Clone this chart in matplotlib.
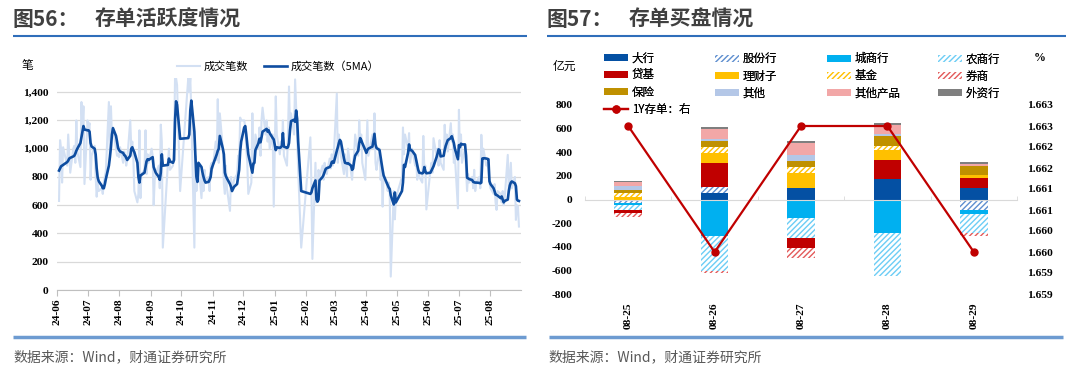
import numpy as np
import pandas as pd
import matplotlib
matplotlib.use("Agg")
import matplotlib.pyplot as plt
from matplotlib.lines import Line2D
import matplotlib.ticker as mticker

CJK = "Noto Sans CJK SC"
SERIF = "Liberation Serif"
plt.rcParams["axes.unicode_minus"] = False
plt.rcParams["hatch.linewidth"] = 1.0

# ---------------- Figure 56 data ----------------
first_day = "2024-06-03"
last_day = "2025-08-29"
market_holidays = ["2024-06-10", "2024-09-16", "2024-09-17", "2024-10-01", "2024-10-02",
                   "2024-10-03", "2024-10-04", "2024-10-07", "2025-01-01", "2025-01-28",
                   "2025-01-29", "2025-01-30", "2025-01-31", "2025-02-03", "2025-02-04",
                   "2025-04-04", "2025-05-01", "2025-05-02", "2025-05-05", "2025-06-02"]

raw_counts = [
    630, 1060, 1000, 760, 1010, 880, 1100, 960, 830, 1000, 1020, 900, 1200, 980, 870, 1330, 1150, 1300, 750,  # 2024-06
    1200, 1150, 1180, 780, 950, 1020, 800, 660, 760, 700, 720, 680, 760, 800, 840, 1330, 920, 1300, 1080, 1150, 1000, 950, 960,  # 07
    940, 1010, 900, 980, 950, 880, 920, 1200, 1000, 1050, 940, 700, 620, 680, 1130, 650, 820, 850, 1130, 820, 960, 900,  # 08
    1000, 950, 600, 780, 820, 880, 720, 1170, 1050, 300, 900, 1000, 850, 880, 1000, 1500, 1500, 1450, 700,  # 09
    1500, 1400, 1500, 1250, 300, 950, 700, 850, 900, 650, 820, 700, 850, 760, 800, 700, 880, 900,  # 10
    860, 1050, 920, 1350, 900, 1250, 1000, 750, 680, 880, 720, 560, 800, 700, 740, 780, 820, 950, 900, 1220, 1200,  # 11
    1200, 1150, 1000, 900, 680, 760, 1250, 880, 950, 1100, 1000, 1150, 950, 1200, 1290, 1100, 1200, 1050, 1150, 1000, 1100, 590,  # 12
    1370, 1100, 960, 1050, 1000, 1200, 950, 880, 1100, 1440, 1150, 1250, 1100, 1490, 1300, 1100, 850, 300,  # 2025-01
    1080, 750, 220, 900, 620, 700, 850, 800, 880, 780, 900, 850, 820, 930, 860, 960, 880, 950,  # 02
    1390, 900, 1100, 1000, 950, 820, 960, 880, 800, 1000, 830, 780, 900, 960, 1100, 950, 1200, 1050, 1100, 900, 780,  # 03
    1000, 1200, 950, 1100, 1000, 1250, 900, 850, 1000, 780, 850, 590, 800, 750, 700, 760, 680, 95, 700, 500, 650,  # 04
    800, 1150, 960, 1100, 1000, 1110, 900, 950, 1000, 880, 920, 780, 850, 800, 760, 1090, 850, 880, 570,  # 05
    850, 900, 830, 1074, 950, 1000, 880, 1060, 900, 850, 1169, 1000, 1100, 980, 1180, 1050, 1100, 900, 950, 578,  # 06
    1275, 950, 1100, 900, 1000, 850, 700, 820, 760, 800, 720, 850, 700, 760, 800, 720, 1098, 950, 1000, 880, 900, 850, 760,  # 07
    720, 680, 750, 620, 567, 700, 680, 620, 700, 600, 650, 956, 700, 800, 900, 720, 800, 496, 600, 590, 449,  # 08
]

ma5_counts = [
    845, 860, 875, 880, 885, 905, 915, 930, 935, 945, 950, 965, 985, 1000, 1040, 1080, 1120, 1160, 1135,  # 2024-06
    1130, 1130, 1120, 1040, 1015, 1000, 960, 860, 795, 770, 738, 720, 720, 748, 785, 880, 940, 1010, 1100, 1145, 1090, 1050, 1005,  # 07
    990, 980, 970, 955, 950, 935, 920, 950, 1000, 1010, 990, 975, 900, 800, 760, 810, 815, 830, 870, 910, 925, 920,  # 08
    935, 940, 870, 850, 830, 800, 780, 830, 960, 880, 885, 930, 910, 900, 920, 1200, 1335, 1310, 1070,  # 09
    1075, 1100, 1270, 1340, 1120, 950, 800, 765, 900, 870, 830, 800, 775, 760, 765, 780, 800, 860,  # 10
    880, 940, 960, 985, 1000, 1090, 1000, 960, 830, 805, 790, 750, 730, 700, 715, 730, 750, 800, 850, 980, 1050,  # 11
    1150, 1160, 1100, 1030, 960, 860, 830, 895, 900, 990, 1040, 1070, 1045, 1080, 1120, 1135, 1140, 1120, 1130, 1110, 1075, 1065,  # 12
    990, 1010, 1005, 1010, 1020, 1110, 1015, 1005, 1010, 1040, 1130, 1195, 1205, 1190, 1270, 1210, 1050, 700,  # 2025-01
    680, 690, 720, 775, 640, 625, 640, 775, 800, 815, 835, 855, 862, 870, 880, 905, 910, 900,  # 02
    985, 1010, 1040, 1062, 1050, 930, 900, 898, 895, 897, 880, 850, 860, 910, 950, 985, 1040, 1075, 1060, 1040, 990,  # 03
    970, 990, 1000, 1015, 1060, 1105, 1030, 1005, 990, 940, 895, 850, 810, 760, 745, 725, 715, 670, 605, 690, 620,  # 04
    700, 760, 885, 870, 970, 1030, 990, 990, 985, 955, 920, 885, 850, 830, 825, 830, 870, 840, 826,  # 05
    830, 845, 860, 875, 940, 965, 995, 990, 945, 950, 990, 1020, 1040, 1060, 1075, 1088, 1065, 1040, 1000, 925,  # 06
    1025, 1010, 1035, 1030, 1030, 950, 795, 790, 785, 778, 765, 762, 760, 760, 758, 755, 760, 930, 933, 930, 928, 925, 770,  # 07
    750, 720, 700, 675, 672, 668, 650, 662, 640, 620, 630, 640, 700, 740, 760, 768, 755, 735, 640, 632, 630,  # 08
]

left_yticks = [0, 200, 400, 600, 800, 1000, 1200, 1400]

# ---------------- Figure 57 data ----------------
trade_days = ["08-25", "08-26", "08-27", "08-28", "08-29"]
big_banks = [0, 57, 100, 171, 95]
joint_stock = [-30, 52, -8, -14, -92]
city_banks = [-20, -309, -150, -266, -34]
rural_banks = [-36, -297, -172, -369, -158]
money_funds = [-32, 200, -80, 160, 90]
wealth_subs = [23, 85, 123, 86, 23]
funds = [29, 49, 48, 40, 0]
brokers = [-34, -17, -82, 0, -25]
insurance = [29, 51, 58, 77, 74]
others = [34, 15, 51, 17, 0]
other_products = [37, 85, 100, 78, 22]
foreign_banks = [6, 23, 14, 22, 10]
cd_1y_rate = [1.6630, 1.6600, 1.6630, 1.6630, 1.6600]
bar_yticks = [-800, -600, -400, -200, 0, 200, 400, 600, 800]
rate_ticks = [1.6590, 1.6595, 1.6600, 1.6605, 1.6610, 1.6615, 1.6620, 1.6625, 1.6630, 1.6635]
rate_tick_labels = ["1.659", "1.659", "1.660", "1.660", "1.661", "1.661", "1.662", "1.662", "1.663", "1.663"]

# ---------------- figure ----------------
W, H = 1080, 373
fig = plt.figure(figsize=(W / 100, H / 100), dpi=100)
fig.patch.set_facecolor("white")
TICK_FS = 8.2


def fx(p):
    return p / W


def fy(p):
    return 1 - p / H


def hline(x0, x1, y, color, lw):
    fig.add_artist(Line2D([fx(x0), fx(x1)], [fy(y), fy(y)], color=color, lw=lw,
                          transform=fig.transFigure, solid_capstyle="butt"))


title_kw = dict(fontsize=15, fontweight="bold", color="#404040", va="center", family=[CJK])
fig.text(fx(13), fy(19.5), "图56：", **title_kw)
fig.text(fx(95), fy(19.5), "存单活跃度情况", **title_kw)
fig.text(fx(547), fy(19.5), "图57：", **title_kw)
fig.text(fx(629), fy(19.5), "存单买盘情况", **title_kw)
hline(13, 527, 36, "#2F6EBA", 1.5)
hline(547, 1066, 36, "#2F6EBA", 1.5)
hline(13, 526, 337, "#6D9BD1", 2.5)
hline(549, 1063, 337, "#6D9BD1", 2.5)
src_kw = dict(fontsize=10, color="#595959", va="center", family=[CJK])
fig.text(fx(13), fy(357), "数据来源：Wind，财通证券研究所", **src_kw)
fig.text(fx(548), fy(357), "数据来源：Wind，财通证券研究所", **src_kw)

# ---------------- left chart ----------------
days = pd.bdate_range(first_day, last_day)
days = days[~days.isin(pd.to_datetime(market_holidays))]
n = min(len(days), len(raw_counts), len(ma5_counts))

ax1 = fig.add_axes([fx(57), fy(290), 464 / W, 212 / H])
ax1.plot(days[:n], raw_counts[:n], color="#D3E0F3", lw=1.5, label="成交笔数", zorder=2)
ax1.plot(days[:n], ma5_counts[:n], color="#0E4DA0", lw=1.9, label="成交笔数（5MA）", zorder=3)
ax1.set_xlim(pd.Timestamp("2024-06-01"), pd.Timestamp("2025-08-31"))
ax1.set_ylim(0, 1500)
ax1.set_yticks(left_yticks)
ax1.yaxis.set_major_formatter(mticker.FuncFormatter(lambda v, p: f"{v:,.0f}"))
ax1.yaxis.grid(True, color="#D9D9D9", lw=0.9)
ax1.set_axisbelow(True)
for s in ("top", "right", "left"):
    ax1.spines[s].set_visible(False)
ax1.spines["bottom"].set_color("#BFBFBF")
month_starts = pd.date_range("2024-06-01", "2025-08-01", freq="MS")
ax1.set_xticks(month_starts)
ax1.set_xticklabels([d.strftime("%y-%m") for d in month_starts])
ax1.tick_params(axis="x", length=4, color="#BFBFBF", pad=2, labelrotation=90)
ax1.tick_params(axis="y", length=0, pad=6)
for lab in ax1.get_xticklabels() + ax1.get_yticklabels():
    lab.set_fontfamily(SERIF)
    lab.set_fontweight("bold")
    lab.set_fontsize(TICK_FS)
    lab.set_color("#000000")
fig.text(fx(27), fy(65), "笔", fontsize=8.5, ha="center", va="center", family=[CJK])
ax1.legend(loc="center left", bbox_to_anchor=(fx(177), fy(67)), bbox_transform=fig.transFigure,
           ncol=2, frameon=False, prop={"family": CJK, "size": 8}, handlelength=2.1,
           handletextpad=0.3, columnspacing=1.4, borderpad=0, borderaxespad=0)

# ---------------- right chart ----------------
ax2 = fig.add_axes([fx(585), fy(294), 432 / W, 189 / H])
x = np.arange(len(trade_days))
series = [
    ("大行", big_banks, "#0450A3", False),
    ("股份行", joint_stock, "#5E8ECF", True),
    ("城商行", city_banks, "#00B0F0", False),
    ("农商行", rural_banks, "#6CCDF5", True),
    ("贷基", money_funds, "#C00000", False),
    ("理财子", wealth_subs, "#FFC000", False),
    ("基金", funds, "#FFC000", True),
    ("券商", brokers, "#E35A5A", True),
    ("保险", insurance, "#BF9000", False),
    ("其他", others, "#B4C7E7", False),
    ("其他产品", other_products, "#F2A7A7", False),
    ("外资行", foreign_banks, "#7F7F7F", False),
]
pos_base = np.zeros(len(x))
neg_base = np.zeros(len(x))
handles = {}
for name, vals, color, hatched in series:
    v = np.asarray(vals, dtype=float)
    bottoms = np.where(v >= 0, pos_base, neg_base)
    if hatched:
        bars = ax2.bar(x, v, width=0.32, bottom=bottoms, facecolor="white", edgecolor=color,
                       hatch="//////", linewidth=0, label=name, zorder=2)
    else:
        bars = ax2.bar(x, v, width=0.32, bottom=bottoms, color=color, linewidth=0,
                       label=name, zorder=2)
    handles[name] = bars
    pos_base += np.where(v > 0, v, 0)
    neg_base += np.where(v < 0, v, 0)

ax2.set_xlim(-0.5, len(x) - 0.5)
ax2.set_ylim(-800, 800)
ax2.set_yticks(bar_yticks)
ax2.yaxis.set_major_formatter(mticker.FuncFormatter(lambda v, p: f"{int(v)}"))
for s in ("top", "right", "left"):
    ax2.spines[s].set_visible(False)
ax2.spines["bottom"].set_position(("data", 0))
ax2.spines["bottom"].set_color("#D9D9D9")
ax2.set_xticks(x)
ax2.set_xticklabels(trade_days)
ax2.set_xticks(np.arange(len(x) + 1) - 0.5, minor=True)
ax2.tick_params(axis="x", which="major", length=0, pad=74, labelrotation=90)
ax2.tick_params(axis="x", which="minor", length=3, direction="in", color="#D9D9D9")
ax2.tick_params(axis="y", length=0, pad=9)
for lab in ax2.get_xticklabels() + ax2.get_yticklabels():
    lab.set_fontfamily(SERIF)
    lab.set_fontweight("bold")
    lab.set_fontsize(TICK_FS)

ax3 = ax2.twinx()
ax3.plot(x, cd_1y_rate, color="#C00000", lw=1.6, marker="o", ms=5, label="1Y存单：右", zorder=4)
ax3.set_ylim(1.6590, 1.6635)
ax3.set_yticks(rate_ticks)
ax3.set_yticklabels(rate_tick_labels)
for s in ("top", "right", "left", "bottom"):
    ax3.spines[s].set_visible(False)
ax3.tick_params(axis="y", length=0, pad=7)
for lab in ax3.get_yticklabels():
    lab.set_fontfamily(SERIF)
    lab.set_fontweight("bold")
    lab.set_fontsize(TICK_FS)
line_handle = ax3.get_lines()[0]

fig.text(fx(564), fy(66), "亿元", fontsize=8.5, ha="center", va="center", family=[CJK])
fig.text(fx(1040), fy(58), "%", fontsize=8.5, ha="center", va="center", family=[SERIF], fontweight="bold")

columns = [
    (604, [("大行", handles["大行"]), ("贷基", handles["贷基"]), ("保险", handles["保险"]),
           ("1Y存单：右", line_handle)]),
    (715, [("股份行", handles["股份行"]), ("理财子", handles["理财子"]), ("其他", handles["其他"])]),
    (827, [("城商行", handles["城商行"]), ("基金", handles["基金"]), ("其他产品", handles["其他产品"])]),
    (938, [("农商行", handles["农商行"]), ("券商", handles["券商"]), ("外资行", handles["外资行"])]),
]
for cx, items in columns:
    rows = len(items)
    yc = 61 + (rows - 1) * 15 / 2
    leg = fig.legend([h for _, h in items], [t for t, _ in items], loc="center left",
                     bbox_to_anchor=(fx(cx), fy(yc)), bbox_transform=fig.transFigure,
                     frameon=False, prop={"family": CJK, "size": 8.3}, handlelength=2.1,
                     handleheight=0.55, handletextpad=0.3, labelspacing=0.36,
                     borderpad=0, borderaxespad=0)
    fig.add_artist(leg)

fig.savefig("out.png", dpi=100, facecolor="white")
